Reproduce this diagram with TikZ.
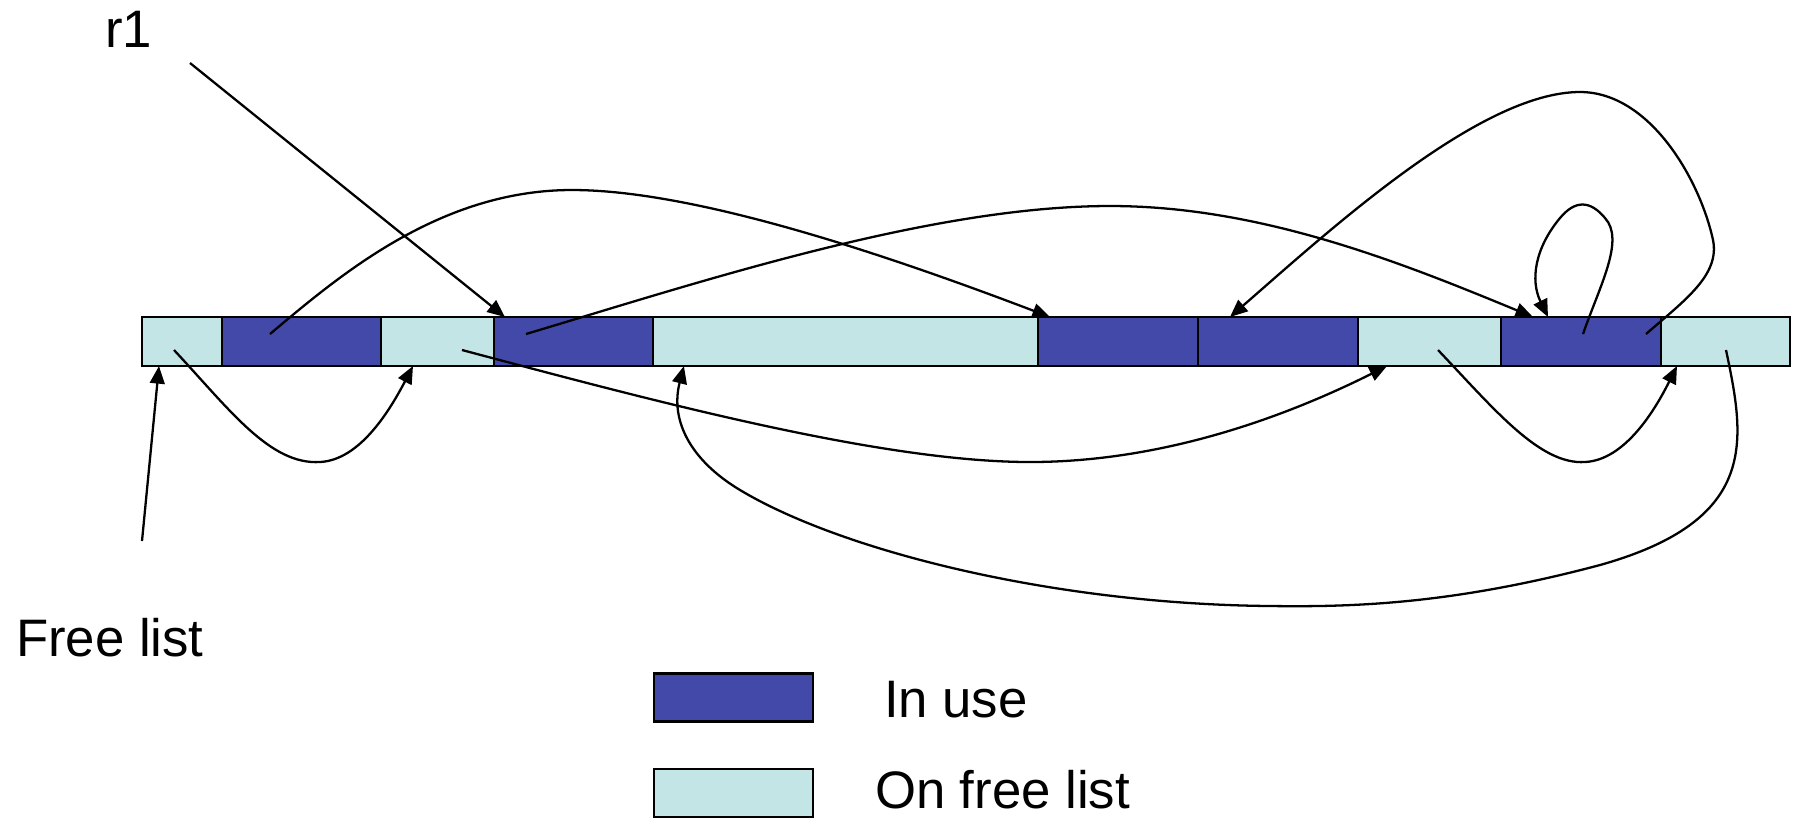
\documentclass[tikz,border=0pt]{standalone}
\usepackage{fontspec}
\setmainfont{Liberation Sans}
\usetikzlibrary{arrows.meta}
\definecolor{inuse}{RGB}{67,73,168}
\definecolor{onfree}{RGB}{196,229,230}

\begin{document}
\begin{tikzpicture}[x=0.01cm,y=-0.01cm]
\tikzstyle{every node}+=[inner sep=0pt,outer sep=0pt]
\tikzstyle{usedblk}=[draw=black,fill=inuse,line width=0.7pt,minimum height=0.49cm]
\tikzstyle{freeblk}=[draw=black,fill=onfree,line width=0.7pt,minimum height=0.49cm]
\tikzstyle{link}=[line width=0.65pt,-{Triangle[length=5pt,width=4.2pt]}]
\tikzstyle{lbl}=[anchor=base west,font=\fontsize{15}{18}\selectfont]
\useasboundingbox (0,0) rectangle (1794,820);
% the heap
\node[freeblk,minimum width=0.80cm] (c1) at (182,341.5) {};
\node[usedblk,minimum width=1.59cm] (c2) at (301.5,341.5) {};
\node[freeblk,minimum width=1.13cm] (c3) at (437.5,341.5) {};
\node[usedblk,minimum width=1.59cm] (c4) at (573.5,341.5) {};
\node[freeblk,minimum width=3.85cm] (c5) at (845.5,341.5) {};
\node[usedblk,minimum width=1.60cm] (c6) at (1118,341.5) {};
\node[usedblk,minimum width=1.60cm] (c7) at (1278,341.5) {};
\node[freeblk,minimum width=1.43cm] (c8) at (1429.5,341.5) {};
\node[usedblk,minimum width=1.60cm] (c9) at (1581,341.5) {};
\node[freeblk,minimum width=1.29cm] (c10) at (1725.5,341.5) {};
% labels
\node[lbl] (r1) at (105,47) {r1};
\node[lbl] (fl) at (16,656) {Free list};
\coordinate (r1tail) at (190,63);
\coordinate (fltail) at (142,541);
% link tails
\coordinate (t3) at (174,350);
\coordinate (t4) at (270,334);
\coordinate (t5) at (462,350);
\coordinate (t6) at (526,334);
\coordinate (t7) at (1726,350);
\coordinate (t8) at (1438,350);
\coordinate (t9) at (1583,334);
\coordinate (t10) at (1646,334);
% pointers
\draw[link] (r1tail) -- ([xshift=0.11cm]c4.north west);
\draw[link] (fltail) -- ([xshift=0.17cm]c1.south west);
\draw[link] (t3) .. controls (230,410) and (270,465) .. (320,462)
  .. controls (360,460) and (390,410) .. ([xshift=0.32cm]c3.south west);
\draw[link] (t4) .. controls (340,275) and (440,190) .. (572,190)
  .. controls (700,190) and (900,260) .. ([xshift=0.12cm]c6.north west);
\draw[link] (t5) .. controls (650,400) and (880,462) .. (1030,462)
  .. controls (1170,462) and (1295,412) .. ([xshift=0.29cm]c8.south west);
\draw[link] (t6) .. controls (700,282) and (930,206) .. (1110,206)
  .. controls (1260,206) and (1400,262) .. ([xshift=0.32cm]c9.north west);
\draw[link] (t7) .. controls (1745,440) and (1760,520) .. (1600,565)
  .. controls (1450,605) and (1350,607) .. (1270,606)
  .. controls (1050,604) and (840,550) .. (740,490)
  .. controls (690,460) and (670,420) .. ([xshift=0.31cm]c5.south west);
\draw[link] (t8) .. controls (1495,410) and (1540,465) .. (1585,462)
  .. controls (1625,460) and (1655,410) .. ([xshift=0.16cm]c10.south west);
\draw[link] (t9) .. controls (1600,285) and (1625,240) .. (1605,218)
  .. controls (1590,200) and (1575,200) .. (1560,218)
  .. controls (1535,248) and (1530,280) .. ([xshift=0.47cm]c9.north west);
\draw[link] (t10) .. controls (1685,300) and (1720,275) .. (1713,240)
  .. controls (1700,180) and (1650,92) .. (1580,92)
  .. controls (1480,92) and (1330,230) .. ([xshift=0.32cm]c7.north west);
% key
\node[usedblk,minimum width=1.59cm,minimum height=0.48cm] (keyused) at (733.5,697.5) {};
\node[freeblk,minimum width=1.59cm,minimum height=0.48cm] (keyfree) at (733.5,793) {};
\node[lbl] (inusetxt) at (884,717) {In use};
\node[lbl] (onfreetxt) at (875,808) {On free list};
\end{tikzpicture}
\end{document}
